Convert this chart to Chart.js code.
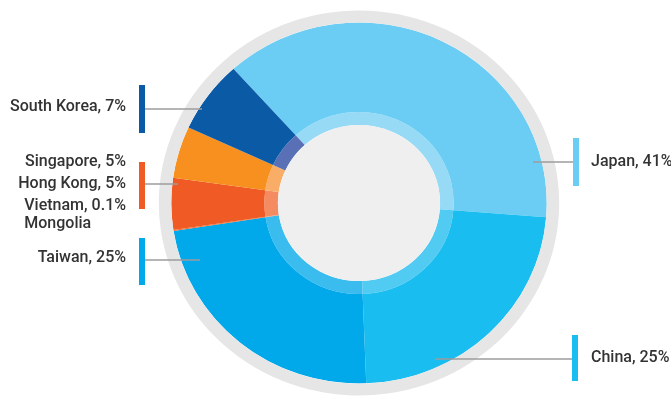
<!DOCTYPE html>
<html>
<head>
<meta charset="utf-8">
<script src="https://cdn.jsdelivr.net/npm/chart.js@4.4.1/dist/chart.umd.min.js"></script>
<style>
  html, body { margin: 0; padding: 0; background: #fff; }
  canvas { display: block; }
</style>
</head>
<body>
<canvas id="exports" width="671" height="397"></canvas>
<script>
// export destinations, clockwise from the top of the ring
const countries = ["Japan", "China", "Taiwan", "Mongolia", "Vietnam", "Hong Kong", "Singapore", "South Korea"];
const shares = [41, 25, 25, null, 0.1, 5, 5, 7];

// colours, same order as countries
const sliceColors = ["#6ccdf4", "#1abdf0", "#02a9ea", "#f26b2a", "#f26b2a", "#f05a24", "#f7901e", "#0b5aa6"];
const innerColors = ["#97daf6", "#52cbf3", "#3bbcef", "#f5926a", "#f5926a", "#f58b60", "#f9ad66", "#5a70b6"];

const OUTER = 192.5;   // outer edge of the grey rim
const HOLE = 78;       // radius of the centre disc
const STRETCH = 1.04;  // the ring is a touch wider than tall

const textFor = (i) => shares[i] == null ? countries[i] : countries[i] + ", " + shares[i] + "%";

const callouts = [
  { names: ["South Korea"], tone: "South Korea", side: "left", bar: [139, 85, 133], lineY: 109, reach: 202, firstY: 107 },
  { names: ["Singapore", "Hong Kong", "Vietnam", "Mongolia"], tone: "Hong Kong", side: "left", bar: [139, 162, 209], lineY: 184, reach: 178, firstY: 162 },
  { names: ["Taiwan"], tone: "Taiwan", side: "left", bar: [139, 238, 285], lineY: 260, reach: 200, firstY: 258 },
  { names: ["Japan"], tone: "Japan", side: "right", bar: [573, 138, 186], lineY: 162, reach: 533, firstY: 162 },
  { names: ["China"], tone: "China", side: "right", bar: [572, 335, 381], lineY: 359, reach: 435, firstY: 358 }
];

const ovalRing = {
  id: "ovalRing",
  beforeDatasetsDraw(chart) {
    const ctx = chart.ctx;
    const a = chart.getDatasetMeta(1).data[0];
    ctx.save();
    ctx.translate(a.x, 0);
    ctx.scale(STRETCH, 1);
    ctx.translate(-a.x, 0);
  },
  afterDatasetsDraw(chart) {
    const ctx = chart.ctx;
    const a = chart.getDatasetMeta(2).data[0];
    ctx.beginPath();
    ctx.arc(a.x, a.y, a.innerRadius, 0, Math.PI * 2);
    ctx.fillStyle = "#efefef";
    ctx.fill();
    ctx.restore();
  }
};

const calloutLabels = {
  id: "calloutLabels",
  afterDraw(chart) {
    const ctx = chart.ctx;
    ctx.save();
    ctx.font = "500 16px Roboto";
    ctx.textBaseline = "middle";
    ctx.fillStyle = "#333";
    callouts.forEach((c) => {
      const [bx, top, bottom] = c.bar;
      // leader line
      ctx.strokeStyle = "#9c9c9c";
      ctx.lineWidth = 1.5;
      ctx.beginPath();
      if (c.side === "left") { ctx.moveTo(bx + 6, c.lineY); ctx.lineTo(c.reach, c.lineY); }
      else { ctx.moveTo(c.reach, c.lineY); ctx.lineTo(bx, c.lineY); }
      ctx.stroke();
      // coloured tick bar
      ctx.fillStyle = sliceColors[countries.indexOf(c.tone)];
      ctx.fillRect(bx, top, 6, bottom - top);
      // text
      ctx.fillStyle = "#333";
      let y = c.firstY;
      let lastLeft = 0;
      c.names.forEach((n) => {
        const i = countries.indexOf(n);
        const t = textFor(i);
        if (c.side === "right") {
          ctx.textAlign = "left";
          ctx.fillText(t, 591, y);
        } else if (shares[i] == null) {
          ctx.textAlign = "left";
          y -= 4;
          ctx.fillText(t, lastLeft, y);
        } else {
          ctx.textAlign = "right";
          ctx.fillText(t, 126, y);
          lastLeft = 126 - ctx.measureText(t).width;
        }
        y += 22;
      });
    });
    ctx.restore();
  }
};

new Chart(document.getElementById("exports"), {
  type: "doughnut",
  data: {
    labels: countries,
    datasets: [
      { data: [1], backgroundColor: ["#e6e6e6"], borderWidth: 0, weight: 12 },
      { data: shares, backgroundColor: sliceColors, borderWidth: 0, weight: OUTER - 12 - 13 - HOLE },
      { data: shares, backgroundColor: innerColors, borderWidth: 0, weight: 13 }
    ]
  },
  options: {
    responsive: false,
    animation: false,
    devicePixelRatio: 1,
    radius: OUTER,
    cutout: (HOLE / OUTER * 100) + "%",
    rotation: -42,
    layout: { padding: { left: 47, top: 9, right: 0, bottom: 0 } },
    plugins: { legend: { display: false }, tooltip: { enabled: false } }
  },
  plugins: [ovalRing, calloutLabels]
});
</script>
</body>
</html>
